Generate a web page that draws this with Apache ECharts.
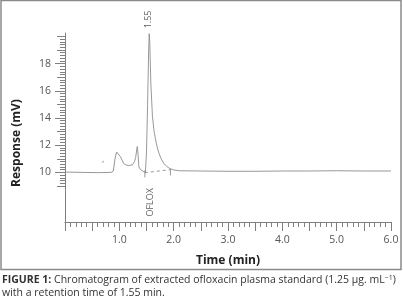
<!DOCTYPE html>
<html>
<head>
<meta charset="utf-8">
<script src="https://cdn.jsdelivr.net/npm/echarts@6/dist/echarts.min.js"></script>
<style>
  html, body { margin: 0; padding: 0; background: #fff; }
  #chart { width: 403px; height: 306px; }
</style>
</head>
<body>
<div id="chart"></div>
<script>
// chromatogram trace
const timeMin = [0, 0.3, 0.6, 0.85, 0.89, 0.92, 0.95, 0.98, 1.02, 1.05, 1.08, 1.12, 1.17, 1.24, 1.28, 1.30, 1.33, 1.345, 1.36, 1.39, 1.43, 1.46, 1.48, 1.50, 1.52, 1.54, 1.55, 1.56, 1.58, 1.61, 1.64, 1.67, 1.70, 1.73, 1.77, 1.82, 1.87, 1.92, 2.0, 2.1, 2.5, 3.0, 3.5, 4.0, 4.5, 5.0, 5.5, 6.0];
const responseMv = [10.02, 10.0, 9.98, 10.0, 10.1, 11.0, 11.5, 11.4, 11.15, 10.9, 10.65, 10.55, 10.5, 10.55, 10.8, 11.1, 11.9, 11.3, 10.4, 10.2, 10.1, 9.98, 10.0, 11.5, 15.0, 19.0, 20.2, 19.6, 16.5, 14.1, 13.0, 12.35, 11.8, 11.4, 11.0, 10.65, 10.45, 10.3, 10.18, 10.12, 10.1, 10.08, 10.08, 10.1, 10.1, 10.12, 10.1, 10.1];

// integration baseline under the main peak and its drop marks
const baseTimes = [1.47, 1.94];
const baseValues = [9.98, 10.2];
const dropTop = [10.15, 10.25];
const dropBottom = [9.63, 9.78];

// stray pen mark before the first bump
const strayTimes = [0.695, 0.705];
const strayValues = [10.7, 10.85];

// annotations
const peakLabel = { t: 1.535, v: 21.25, text: '1.55' };
const compoundLabel = { t: 1.58, v: 7.8, text: 'OFLOX' };

// axis ticks
const yLabelTicks = [10, 12, 14, 16, 18];
const yUnitTicks = [9, 10, 11, 12, 13, 14, 15, 16, 17, 18, 19, 20];
const yFineTicks = [];
for (let v = 9; v <= 20.001; v += 0.2) yFineTicks.push(+v.toFixed(1));

const chart = echarts.init(document.getElementById('chart'));

const font = '"Open Sans", Lato, sans-serif';
const axisColor = '#808080';
const traceColor = '#8c8c8c';

const yBase = {
  type: 'value',
  min: 6.35,
  max: 20.25,
  position: 'left',
  splitLine: { show: false },
  axisLine: { show: false },
  axisLabel: { show: false }
};

const option = {
  animation: false,
  grid: { left: 65, right: 12, top: 33, bottom: 84 },
  xAxis: {
    type: 'value',
    min: 0,
    max: 6,
    interval: 0.5,
    name: 'Time (min)',
    nameLocation: 'middle',
    nameGap: 33,
    nameTextStyle: { fontFamily: font, fontWeight: 'bold', fontSize: 12, color: '#222' },
    axisLine: { show: true, lineStyle: { color: axisColor, width: 1 } },
    axisTick: { show: true, length: 9, lineStyle: { color: axisColor } },
    minorTick: { show: true, splitNumber: 5, length: 5, lineStyle: { color: axisColor } },
    splitLine: { show: false },
    axisLabel: {
      margin: 13,
      fontFamily: font,
      fontSize: 10.5,
      color: '#555',
      formatter: function (v) {
        return (v > 0 && Math.abs(v - Math.round(v)) < 1e-6) ? v.toFixed(1) : '';
      }
    }
  },
  yAxis: [
    Object.assign({}, yBase, {
      axisLine: { show: true, lineStyle: { color: axisColor, width: 1 } },
      axisTick: { show: true, length: 5, customValues: yFineTicks, lineStyle: { color: axisColor } }
    }),
    Object.assign({}, yBase, {
      axisTick: { show: true, length: 8, customValues: yUnitTicks, lineStyle: { color: axisColor } }
    }),
    Object.assign({}, yBase, {
      axisTick: { show: true, length: 10, customValues: yLabelTicks, lineStyle: { color: axisColor } },
      axisLabel: {
        show: true,
        customValues: yLabelTicks,
        margin: 14,
        fontFamily: font,
        fontSize: 10.5,
        color: '#555'
      }
    })
  ],
  series: [
    {
      type: 'line',
      data: timeMin.map((t, i) => [t, responseMv[i]]),
      showSymbol: false,
      lineStyle: { color: traceColor, width: 0.9 }
    },
    {
      type: 'line',
      data: baseTimes.map((t, i) => [t, baseValues[i]]),
      showSymbol: false,
      lineStyle: { color: traceColor, width: 0.9, type: [3, 3] }
    },
    ...baseTimes.map((t, i) => ({
      type: 'line',
      data: [[t, dropTop[i]], [t, dropBottom[i]]],
      showSymbol: false,
      lineStyle: { color: traceColor, width: 0.9 }
    })),
    {
      type: 'line',
      data: strayTimes.map((t, i) => [t, strayValues[i]]),
      showSymbol: false,
      lineStyle: { color: '#999', width: 1 }
    },
    {
      type: 'scatter',
      clip: false,
      symbolSize: 0,
      data: [[peakLabel.t, peakLabel.v, peakLabel.text], [compoundLabel.t, compoundLabel.v, compoundLabel.text]],
      label: {
        show: true,
        position: 'inside',
        rotate: 90,
        fontFamily: font,
        fontSize: 9,
        color: '#333',
        formatter: p => p.data[2]
      }
    }
  ],
  graphic: [
    {
      type: 'rect',
      shape: { x: 1, y: 0.5, width: 400, height: 269 },
      style: { fill: 'none', stroke: '#8a8a8a', lineWidth: 1.5 },
      silent: true
    },
    {
      type: 'text',
      x: 17,
      y: 143,
      rotation: Math.PI / 2,
      style: {
        text: 'Response (mV)',
        fontFamily: font,
        fontWeight: 'bold',
        fontSize: 12,
        fill: '#222',
        textAlign: 'center',
        textVerticalAlign: 'middle'
      }
    },
    {
      type: 'text',
      left: 2,
      top: 274,
      style: {
        text: '{b|FIGURE 1:} Chromatogram of extracted ofloxacin plasma standard (1.25 \u03bcg. mL{sup|\u22121})\nwith a retention time of 1.55 min.',
        fontFamily: font,
        fontSize: 10.5,
        lineHeight: 12.5,
        fill: '#333',
        rich: {
          b: { fontFamily: font, fontWeight: 'bold', fontSize: 10.5, fill: '#333' },
          sup: { fontFamily: font, fontSize: 7, fill: '#333', verticalAlign: 'top' }
        }
      }
    }
  ]
};

chart.setOption(option);
</script>
</body>
</html>
